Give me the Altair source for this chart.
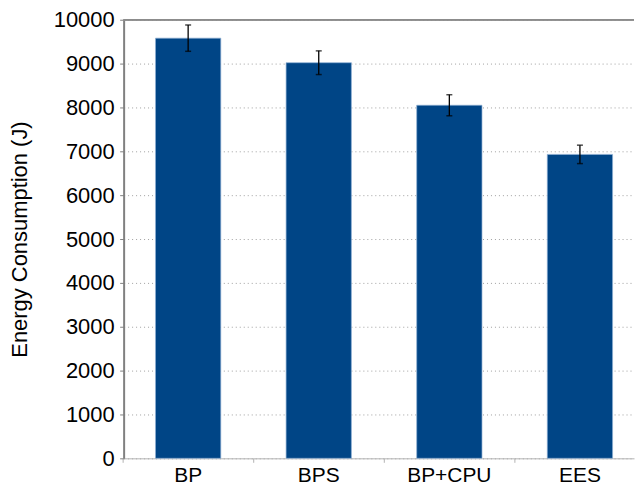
import altair as alt
import pandas as pd

categories = ["BP", "BPS", "BP+CPU", "EES"]
energy = [9580, 9020, 8050, 6930]
error = [300, 270, 240, 210]

df = pd.DataFrame({
    "cat": categories,
    "val": energy,
    "lo": [v - e for v, e in zip(energy, error)],
    "hi": [v + e for v, e in zip(energy, error)],
})

FONT = "Liberation Sans"
yvals = list(range(0, 10001, 500))

x_enc = alt.X(
    "cat:N",
    sort=categories,
    scale=alt.Scale(paddingInner=0.5, paddingOuter=0.204, align=0.598),
    axis=alt.Axis(
        title=None, labelAngle=0, labelFont=FONT, labelFontSize=21,
        labelColor="#000000", labelPadding=2,
        ticks=True, tickColor="#b3b3b3", tickSize=4, bandPosition=-0.5,
        domainColor="#b3b3b3", domainWidth=1,
    ),
)

y_scale = alt.Scale(domain=[0, 10000], nice=False)

bars = alt.Chart(df).mark_bar(
    color="#004586", stroke="#8fb0d4", strokeWidth=0.7
).encode(
    x=x_enc,
    y=alt.Y(
        "val:Q",
        scale=y_scale,
        axis=alt.Axis(
            title="Energy Consumption (J)", titleFont=FONT, titleFontSize=22,
            titleFontWeight="normal", titleColor="#000000", titlePadding=21.5,
            values=yvals,
            labelExpr="datum.value % 1000 == 0 ? datum.label : ''",
            labelFont=FONT, labelFontSize=22, labelColor="#000000",
            labelPadding=5.5, format="d",
            grid=True, gridColor="#a0a0a0", gridDash=[1, 3], gridWidth=1,
            domainColor="#808080", domainWidth=2,
            tickColor="#808080", tickSize=4, tickWidth=1,
        ),
    ),
)

top_line = alt.Chart(df).mark_rule(color="#8c8c8c", strokeWidth=1.5).encode(
    y=alt.datum(10000, scale=y_scale)
)

err_rule = alt.Chart(df).mark_rule(color="#000000", strokeWidth=1.3).encode(
    x=alt.X("cat:N", sort=categories),
    y=alt.Y("lo:Q", scale=y_scale),
    y2="hi:Q",
)
err_lo = alt.Chart(df).mark_tick(color="#000000", thickness=1.5, size=6, orient="horizontal").encode(
    x=alt.X("cat:N", sort=categories),
    y=alt.Y("lo:Q", scale=y_scale),
)
err_hi = alt.Chart(df).mark_tick(color="#000000", thickness=1.5, size=6, orient="horizontal").encode(
    x=alt.X("cat:N", sort=categories),
    y=alt.Y("hi:Q", scale=y_scale),
)

chart = alt.layer(bars, top_line, err_rule, err_lo, err_hi).properties(
    width=512, height=440, padding={"left": 0, "top": 0, "right": 0, "bottom": 0}
).configure_view(stroke=None)

chart.save("out.html", embed_options={"renderer": "svg", "actions": False})
